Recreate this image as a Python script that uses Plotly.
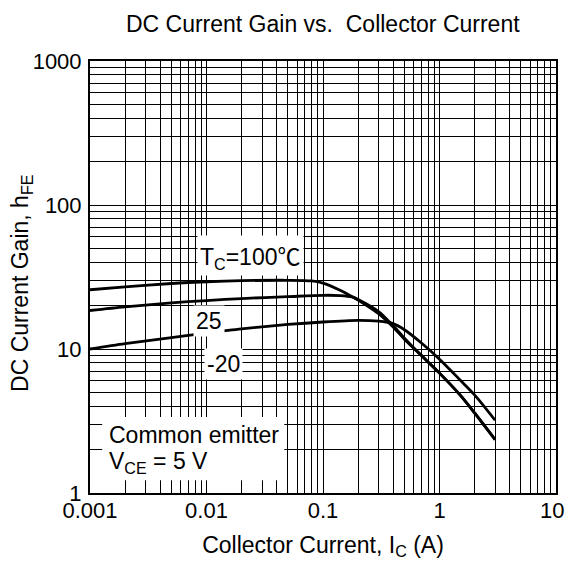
import plotly.graph_objects as go

# ---- data ----
ic_100 = [0.001, 0.002, 0.005, 0.01, 0.02, 0.05, 0.08, 0.1, 0.14, 0.18, 0.2, 0.3, 0.4, 0.5, 0.7, 1.0, 1.5, 2.0, 3.0]
hfe_100 = [25.8, 27.0, 28.5, 29.3, 29.8, 30.0, 29.7, 28.7, 25.6, 23.0, 21.9, 17.6, 14.2, 11.7, 9.0, 6.8, 4.8, 3.6, 2.35]

ic_25 = [0.001, 0.002, 0.005, 0.01, 0.02, 0.05, 0.1, 0.14, 0.18, 0.2, 0.3, 0.4, 0.5, 0.7, 1.0, 1.5, 2.0, 3.0]
hfe_25 = [18.5, 19.6, 20.9, 21.7, 22.4, 23.1, 23.6, 23.5, 22.9, 22.1, 18.2, 14.5, 11.9, 9.0, 6.8, 4.8, 3.6, 2.35]

ic_m20 = [0.001, 0.002, 0.005, 0.01, 0.02, 0.05, 0.1, 0.2, 0.3, 0.4, 0.5, 0.7, 1.0, 1.5, 2.0, 3.0]
hfe_m20 = [10.0, 10.9, 12.0, 12.9, 13.8, 14.8, 15.4, 15.8, 15.6, 15.0, 13.6, 11.0, 8.5, 6.1, 4.8, 3.2]

x_decades = [0.001, 0.01, 0.1, 1, 10]
x_tick_labels = ["0.001", "0.01", "0.1", "1", "10"]
y_decades = [1, 10, 100, 1000]
y_tick_labels = ["1", "10", "100", "1000"]

FONT = "Liberation Sans, Arial, sans-serif"


def grid_ticks(decades, labels, skip_last_label=False):
    vals, texts = [], []
    for i, d in enumerate(decades):
        vals.append(d)
        if skip_last_label and i == len(decades) - 1:
            texts.append("")
        else:
            texts.append(labels[i])
        if i < len(decades) - 1:
            for k in range(2, 10):
                vals.append(k * d)
                texts.append("")
    return vals, texts


# last x label ("10") sits at the page edge; it is drawn as an annotation nudged inward
xv, xt = grid_ticks(x_decades, x_tick_labels, skip_last_label=True)
yv, yt = grid_ticks(y_decades, y_tick_labels)

fig = go.Figure()
for xs, ys, name in [(ic_100, hfe_100, "100"), (ic_25, hfe_25, "25"), (ic_m20, hfe_m20, "-20")]:
    fig.add_trace(go.Scatter(
        x=xs, y=ys, mode="lines", name=name,
        line=dict(color="black", width=2.8, shape="spline", smoothing=0.8),
        showlegend=False, hoverinfo="skip"))

W, H = 567, 562
ML, MR, MT, MB = 89.5, 11, 60.5, 69.3
PW, PH = W - ML - MR, H - MT - MB


def px(x):
    return (x - ML) / PW


def py(y):
    return (H - MB - y) / PH


fig.update_xaxes(
    type="log", range=[-3, 1], tickvals=xv, ticktext=xt,
    showgrid=True, gridcolor="black", gridwidth=1,
    showline=True, linecolor="black", linewidth=2, mirror=True,
    ticks="", zeroline=False, automargin=False, ticklabelstandoff=-3,
    tickfont=dict(family=FONT, size=22, color="black"),
    title=dict(text="Collector Current, I<sub>C</sub> (A)",
               font=dict(family=FONT, size=23, color="black"), standoff=14),
)
fig.update_yaxes(
    type="log", range=[0, 3], tickvals=yv, ticktext=yt,
    showgrid=True, gridcolor="black", gridwidth=1,
    showline=True, linecolor="black", linewidth=2, mirror=True,
    ticks="", zeroline=False, ticklabelstandoff=2, automargin=False,
    tickfont=dict(family=FONT, size=22, color="black"),
)

ann_font = dict(family=FONT, size=23, color="black")
tick_font = dict(family=FONT, size=22, color="black")

# y-axis title
fig.add_annotation(text="DC Current Gain, h<sub>FE</sub>", xref="paper", yref="paper",
                   x=px(21), y=py(283), xanchor="center", yanchor="middle",
                   textangle=-90, showarrow=False, font=ann_font)
# last x tick label
fig.add_annotation(text=x_tick_labels[-1], xref="paper", yref="paper",
                   x=px(552), y=py(510.5), xanchor="center", yanchor="middle",
                   showarrow=False, font=tick_font)

fig.add_shape(type="rect", xref="paper", yref="paper",
              x0=px(101.7), x1=px(284), y0=py(480), y1=py(416.7),
              fillcolor="white", line=dict(width=0), layer="above")
fig.add_annotation(text="Common emitter", xref="paper", yref="paper",
                   x=px(107), y=py(435), xanchor="left", yanchor="middle",
                   showarrow=False, font=ann_font)
fig.add_annotation(text="V<sub>CE</sub> = 5 V", xref="paper", yref="paper",
                   x=px(107), y=py(462), xanchor="left", yanchor="middle",
                   showarrow=False, font=ann_font)
fig.add_annotation(text="T<sub>C</sub>=100<span style='font-family:Noto Sans CJK JP'>℃</span>",
                   xref="paper", yref="paper",
                   x=px(250), y=py(255), xanchor="center", yanchor="middle",
                   showarrow=False, font=ann_font, bgcolor="white", borderpad=2)
fig.add_annotation(text="25", xref="paper", yref="paper",
                   x=px(208.5), y=py(321), xanchor="center", yanchor="middle",
                   showarrow=False, font=ann_font, bgcolor="white", borderpad=2)
fig.add_annotation(text="-20", xref="paper", yref="paper",
                   x=px(223), y=py(364), xanchor="center", yanchor="middle",
                   showarrow=False, font=ann_font, bgcolor="white", borderpad=2)

fig.update_layout(
    width=W, height=H,
    margin=dict(l=ML, r=MR, t=MT, b=MB, pad=0, autoexpand=False),
    paper_bgcolor="white", plot_bgcolor="white",
    font=dict(family=FONT, color="black"),
    title=dict(text="DC Current Gain vs.  Collector Current",
               font=dict(family=FONT, size=23, color="black"),
               x=(ML + PW / 2) / W, xanchor="center", y=1 - 24 / H, yanchor="middle",
               xref="container", yref="container"),
)

fig.write_html("out.html")
